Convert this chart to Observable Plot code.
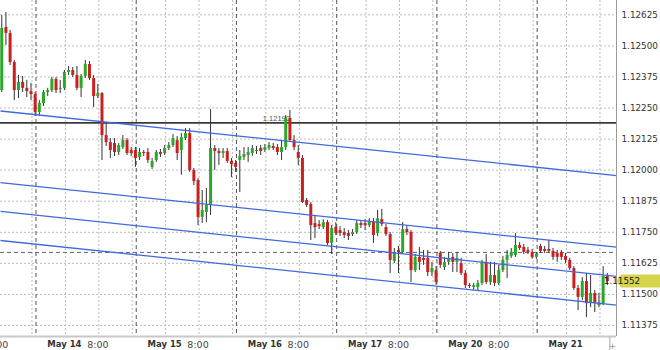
<!DOCTYPE html>
<html>
<head>
<meta charset="utf-8">
<script src="https://cdn.jsdelivr.net/npm/d3@7"></script>
<script src="https://cdn.jsdelivr.net/npm/@observablehq/plot@0.6"></script>
<style>
  html, body { margin: 0; padding: 0; background: #fff; }
  #chart svg { display: block; }
</style>
</head>
<body>
<div id="chart"></div>
<script>
// Hourly candles, bar index 0..145 (weekend hours removed)
const open = [
  1.12320,1.12574,1.12550,1.12433,1.12320,1.12353,1.12329,1.12316,1.12304,1.12232,
  1.12268,1.12312,1.12320,1.12365,1.12325,1.12329,1.12393,1.12401,1.12381,1.12329,
  1.12377,1.12425,1.12369,1.12296,1.12308,1.12139,1.12111,1.12107,1.12071,1.12091,
  1.12119,1.12079,1.12079,1.12051,1.12071,1.12071,1.12011,1.12039,1.12071,1.12067,
  1.12087,1.12099,1.12119,1.12079,1.12127,1.12147,1.11999,1.11958,1.11810,1.11830,
  1.11858,1.12087,1.12075,1.12067,1.12075,1.12035,1.12027,1.12039,1.12051,1.12059,
  1.12067,1.12075,1.12087,1.12079,1.12087,1.12095,1.12091,1.12071,1.12091,1.12208,
  1.12119,1.12071,1.12047,1.11878,1.11862,1.11785,1.11781,1.11769,1.11789,1.11705,
  1.11769,1.11757,1.11749,1.11745,1.11741,1.11749,1.11785,1.11785,1.11777,1.11793,
  1.11745,1.11801,1.11769,1.11741,1.11633,1.11677,1.11669,1.11761,1.11749,1.11596,
  1.11649,1.11645,1.11645,1.11588,1.11596,1.11665,1.11608,1.11629,1.11649,1.11629,
  1.11624,1.11584,1.11536,1.11528,1.11528,1.11544,1.11629,1.11548,1.11576,1.11544,
  1.11596,1.11637,1.11653,1.11657,1.11697,1.11689,1.11677,1.11669,1.11649,1.11693,
  1.11681,1.11681,1.11673,1.11665,1.11669,1.11653,1.11637,1.11604,1.11524,1.11488,
  1.11552,1.11463,1.11504,1.11455,1.11463,1.11572
];
const high = [
  1.12622,1.12634,1.12562,1.12441,1.12381,1.12377,1.12361,1.12349,1.12312,1.12280,
  1.12320,1.12329,1.12373,1.12373,1.12361,1.12401,1.12417,1.12413,1.12417,1.12385,
  1.12441,1.12437,1.12381,1.12345,1.12312,1.12192,1.12127,1.12127,1.12107,1.12139,
  1.12127,1.12091,1.12091,1.12087,1.12079,1.12087,1.12047,1.12079,1.12083,1.12099,
  1.12111,1.12143,1.12135,1.12147,1.12167,1.12167,1.12007,1.11966,1.11918,1.11926,
  1.12244,1.12099,1.12087,1.12087,1.12087,1.12047,1.12039,1.12079,1.12091,1.12091,
  1.12099,1.12095,1.12099,1.12103,1.12111,1.12107,1.12103,1.12119,1.12220,1.12240,
  1.12139,1.12099,1.12059,1.11886,1.11870,1.11818,1.11797,1.11801,1.11797,1.11777,
  1.11789,1.11773,1.11765,1.11757,1.11761,1.11797,1.11797,1.11801,1.11805,1.11805,
  1.11838,1.11842,1.11781,1.11749,1.11685,1.11693,1.11789,1.11773,1.11757,1.11661,
  1.11689,1.11677,1.11677,1.11629,1.11612,1.11673,1.11649,1.11669,1.11665,1.11669,
  1.11645,1.11596,1.11544,1.11544,1.11556,1.11637,1.11661,1.11629,1.11629,1.11617,
  1.11653,1.11677,1.11685,1.11745,1.11709,1.11701,1.11689,1.11681,1.11669,1.11701,
  1.11693,1.11717,1.11685,1.11677,1.11677,1.11665,1.11645,1.11612,1.11536,1.11568,
  1.11584,1.11576,1.11516,1.11504,1.11612,1.11584
];
const low = [
  1.12312,1.12502,1.12421,1.12280,1.12288,1.12312,1.12292,1.12280,1.12216,1.12216,
  1.12256,1.12296,1.12312,1.12308,1.12308,1.12320,1.12381,1.12373,1.12320,1.12292,
  1.12369,1.12361,1.12252,1.12288,1.12039,1.12095,1.12047,1.12055,1.12059,1.12083,
  1.12059,1.12055,1.12011,1.12039,1.12055,1.12027,1.12003,1.12031,1.12051,1.12059,
  1.12079,1.12091,1.12039,1.11979,1.12119,1.11991,1.11938,1.11777,1.11785,1.11789,
  1.11818,1.11999,1.12019,1.12047,1.12027,1.11970,1.11991,1.11910,1.12039,1.12031,
  1.12055,1.12063,1.12059,1.12071,1.12079,1.12079,1.12059,1.12039,1.12079,1.12111,
  1.12079,1.12019,1.11866,1.11850,1.11717,1.11725,1.11761,1.11761,1.11697,1.11661,
  1.11737,1.11733,1.11725,1.11717,1.11733,1.11741,1.11765,1.11757,1.11769,1.11705,
  1.11733,1.11773,1.11733,1.11584,1.11624,1.11584,1.11661,1.11737,1.11548,1.11588,
  1.11596,1.11617,1.11572,1.11572,1.11536,1.11604,1.11596,1.11617,1.11588,1.11588,
  1.11576,1.11524,1.11524,1.11516,1.11516,1.11536,1.11540,1.11536,1.11532,1.11536,
  1.11588,1.11564,1.11645,1.11649,1.11677,1.11661,1.11661,1.11641,1.11641,1.11665,
  1.11665,1.11665,1.11637,1.11629,1.11637,1.11624,1.11596,1.11516,1.11435,1.11476,
  1.11407,1.11447,1.11427,1.11447,1.11455,1.11536
];
const close = [
  1.12570,1.12550,1.12433,1.12320,1.12353,1.12329,1.12316,1.12304,1.12232,1.12268,
  1.12312,1.12320,1.12365,1.12320,1.12329,1.12393,1.12401,1.12381,1.12329,1.12377,
  1.12425,1.12369,1.12296,1.12308,1.12139,1.12111,1.12079,1.12071,1.12099,1.12119,
  1.12067,1.12067,1.12047,1.12071,1.12067,1.12039,1.12035,1.12071,1.12063,1.12087,
  1.12099,1.12127,1.12067,1.12131,1.12147,1.11999,1.11954,1.11810,1.11838,1.11858,
  1.12087,1.12075,1.12067,1.12075,1.12035,1.12023,1.12011,1.12055,1.12063,1.12071,
  1.12087,1.12079,1.12075,1.12091,1.12099,1.12087,1.12071,1.12091,1.12208,1.12119,
  1.12091,1.12047,1.11870,1.11858,1.11777,1.11769,1.11773,1.11789,1.11705,1.11765,
  1.11745,1.11745,1.11737,1.11733,1.11749,1.11785,1.11777,1.11777,1.11793,1.11737,
  1.11805,1.11781,1.11741,1.11637,1.11669,1.11669,1.11761,1.11749,1.11596,1.11649,
  1.11629,1.11637,1.11588,1.11604,1.11548,1.11617,1.11629,1.11645,1.11629,1.11645,
  1.11584,1.11536,1.11532,1.11536,1.11544,1.11629,1.11548,1.11576,1.11544,1.11596,
  1.11637,1.11657,1.11669,1.11697,1.11685,1.11669,1.11669,1.11649,1.11661,1.11673,
  1.11673,1.11673,1.11649,1.11649,1.11649,1.11637,1.11604,1.11524,1.11488,1.11552,
  1.11463,1.11504,1.11463,1.11467,1.11572,1.11552
];

// Axis ticks
const priceTicks = [1.11375,1.11500,1.11625,1.11750,1.11875,1.12000,1.12125,1.12250,1.12375,1.12500,1.12625];
const gridBars = [7.24,15.24,23.24,31.24,39.24,47.24,55.24,63.24,71.24,79.24,87.24,95.24,103.24,111.24,119.24,127.24,135.24,143.24];
const sessionBars = [8.2,32.2,56.2,80.2,104.2,128.2];
const dayLabelBars = [15.24,39.24,63.24,87.24,111.24,135.24];
const dayLabels = ["May 14","May 15","May 16","May 17","May 20","May 21"];
const hourLabelBars = [-0.76,23.24,47.24,71.24,95.24,119.24];
const hourLabels = ["8:00","8:00","8:00","8:00","8:00","8:00"];

// Drawn objects
const channelStart = [1.12238,1.11950,1.11834,1.11717];
const channelEnd   = [1.11978,1.11690,1.11573,1.11457];
const resistance = 1.12190;
const resistanceLabelBar = 69;
const referenceLevel = 1.11669;

const xDomain = [-0.3, 147.2];
const yDomain = [1.113308, 1.126825];

const fmt = d3.format(".5f");
const candles = open.map((o, i) => ({bar: i, open: o, high: high[i], low: low[i], close: close[i]}));
const up = candles.filter(d => d.close >= d.open);
const down = candles.filter(d => d.close < d.open);
const channels = channelStart.map((s, k) => ({x1: xDomain[0], x2: xDomain[1], y1: s, y2: channelEnd[k]}));
const lastBar = candles.length - 1;

const chart = Plot.plot({
  width: 660,
  height: 350,
  marginTop: 0,
  marginRight: 44,
  marginBottom: 14,
  marginLeft: 0,
  x: {domain: xDomain, axis: null},
  y: {domain: yDomain, axis: null},
  style: {fontFamily: "'DejaVu Sans', Verdana, sans-serif", fontSize: "9px", color: "#333", background: "#fff", overflow: "visible"},
  marks: [
    Plot.ruleY(priceTicks, {stroke: "#bcbcbc", strokeDasharray: "2,2"}),
    Plot.ruleX(gridBars, {stroke: "#bcbcbc", strokeDasharray: "2,2"}),
    Plot.ruleX(sessionBars, {stroke: "#555", strokeDasharray: "4,3"}),
    Plot.ruleY([referenceLevel], {stroke: "#666", strokeDasharray: "4,3"}),
    Plot.ruleY([resistance], {stroke: "#3a3a3a", strokeWidth: 1.6}),
    Plot.text([resistance], {x: resistanceLabelBar, y: d => d, text: d => fmt(d), textAnchor: "end", dy: -4, fontSize: 7.5, fill: "#555", fontFamily: "'Liberation Sans', Arial, sans-serif"}),
    Plot.ruleX(candles, {x: "bar", y1: "low", y2: "high", stroke: "#333", strokeWidth: 1}),
    Plot.ruleX(up, {x: "bar", y1: "open", y2: "close", stroke: "#2aa82a", strokeWidth: 3}),
    Plot.ruleX(down, {x: "bar", y1: "open", y2: "close", stroke: "#cc2020", strokeWidth: 3}),
    Plot.link(channels, {x1: "x1", y1: "y1", x2: "x2", y2: "y2", stroke: "#4169e1", strokeWidth: 1.3}),
    Plot.ruleY([yDomain[0]], {stroke: "#c8c8c8", strokeWidth: 2}),
    Plot.ruleX([xDomain[1]], {stroke: "#9a9a9a"}),
    Plot.text(priceTicks, {y: d => d, text: d => fmt(d), frameAnchor: "right", dx: 5, textAnchor: "start", fontSize: 8.8, fill: "#333"}),
    Plot.text(dayLabelBars, {x: d => d, text: (d, i) => dayLabels[i], frameAnchor: "bottom", lineAnchor: "middle", dy: 8, dx: -1, fontWeight: "bold", fontSize: 8.5, fill: "#333"}),
    Plot.text(hourLabelBars, {x: d => d, text: (d, i) => hourLabels[i], frameAnchor: "bottom", lineAnchor: "middle", dy: 8, dx: -1, fontSize: 9.5, fill: "#444"}),
    Plot.ruleX([lastBar + 0.6], {insetTop: 337, insetBottom: -14, stroke: "#aaa"}),
    Plot.text(["+"], {frameAnchor: "bottom-right", textAnchor: "middle", lineAnchor: "middle", dx: -4, dy: 10, fill: "#999", fontSize: 9})
  ]
});

// Last-price marker on the right axis
const lastPrice = close[lastBar];
const yLast = chart.scale("y").apply(lastPrice);
const xr = chart.scale("x").apply(xDomain[1]);
const g = d3.select(chart).append("g");
g.append("path")
  .attr("d", `M${xr + 0.5},${yLast}L${xr + 5},${yLast - 6.5}H660V${yLast + 6.5}H${xr + 5}Z`)
  .attr("fill", "#d5d54c");
g.append("text")
  .attr("x", xr + 6)
  .attr("y", yLast)
  .attr("dy", "0.35em")
  .attr("font-size", 8.8)
  .attr("fill", "#222")
  .text(fmt(lastPrice));

document.getElementById("chart").append(chart);
</script>
</body>
</html>
